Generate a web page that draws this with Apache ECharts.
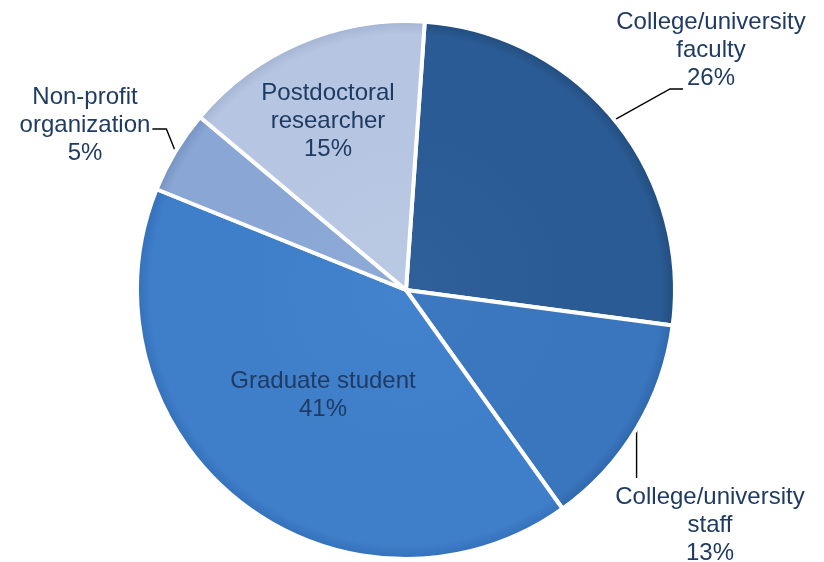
<!DOCTYPE html>
<html>
<head>
<meta charset="utf-8">
<style>
  html, body { margin: 0; padding: 0; background: #ffffff; }
  #chart { width: 824px; height: 562px; }
</style>
<script src="https://cdn.jsdelivr.net/npm/echarts@6/dist/echarts.min.js"></script>
</head>
<body>
<div id="chart"></div>
<script>
// Respondent positions, clockwise from the top of the pie
const categories = [
  'College/university\nfaculty',
  'College/university\nstaff',
  'Graduate student',
  'Non-profit\norganization',
  'Postdoctoral\nresearcher'
];
const shares = [26, 13, 41, 5, 15];

// Slice fills: [rim shade, body, inner tint]
const sliceColors = [
  ['#224c7e', '#2b5b94', '#2f6099'],
  ['#2f66aa', '#3a76be', '#3d79c1'],
  ['#3470ba', '#3f7ec9', '#4382cc'],
  ['#7592c3', '#8aa6d4', '#8eaad7'],
  ['#a2b3d2', '#b6c5e1', '#bac9e3']
];
// Which labels sit inside their slice
const insideLabel = [false, false, true, false, true];

const cx = 406, cy = 290, R = 269;

// Where each label block is centred, relative to the pie centre
const labelOffsets = [
  [305, -240],
  [304, 235],
  [-83, 105],
  [-321, -165],
  [-78, -169]
];

const textColor = '#1f3b63';

const data = categories.map((name, i) => ({
  name: name,
  value: shares[i],
  itemStyle: {
    color: {
      type: 'radial', global: true, x: cx, y: cy, r: R,
      colorStops: [
        { offset: 0, color: sliceColors[i][2] },
        { offset: 0.6, color: sliceColors[i][1] },
        { offset: 0.95, color: sliceColors[i][1] },
        { offset: 1, color: sliceColors[i][0] }
      ]
    }
  },
  label: { position: insideLabel[i] ? 'inside' : 'outside' },
  labelLine: { show: !insideLabel[i] }
}));

const chart = echarts.init(document.getElementById('chart'), null, { renderer: 'canvas' });

chart.setOption({
  backgroundColor: '#ffffff',
  animation: false,
  series: [{
    type: 'pie',
    center: [cx, cy],
    radius: R,
    startAngle: 86,
    clockwise: true,
    avoidLabelOverlap: false,
    data: data,
    itemStyle: {
      borderColor: '#ffffff',
      borderWidth: 4
    },
    label: {
      show: true,
      color: textColor,
      fontFamily: '"Liberation Sans", Arial, sans-serif',
      fontSize: 24,
      lineHeight: 28,
      align: 'center',
      formatter: (p) => p.name + '\n' + p.value + '%'
    },
    labelLine: {
      show: true,
      smooth: false,
      lineStyle: { color: '#000000', width: 1.4 }
    },
    labelLayout: function (params) {
      const i = params.dataIndex;
      const off = labelOffsets[i];
      const x = cx + off[0];
      const y = cy + off[1];
      const w = params.labelRect.width;
      const h = params.labelRect.height;
      const out = { x: x, y: y, align: 'center', verticalAlign: 'middle' };
      const pts = params.labelLinePoints;
      if (!insideLabel[i] && pts && pts.length) {
        const start = pts[0];
        let knee, end;
        if (i === 0) {
          // attach to the bottom edge of the label block
          end = [x - 28, y + h / 2 - 3];
          knee = [end[0] - 13, end[1]];
        } else if (i === 1) {
          // straight drop onto the top of the label block
          end = [start[0], y - h / 2 - 5];
          knee = [start[0], (start[1] + end[1]) / 2];
        } else {
          // attach just right of the label block
          end = [x + w / 2 + 2, y + 4];
          knee = [end[0] + 14, end[1]];
        }
        out.labelLinePoints = [start, knee, end];
      }
      return out;
    }
  }]
});
</script>
</body>
</html>
